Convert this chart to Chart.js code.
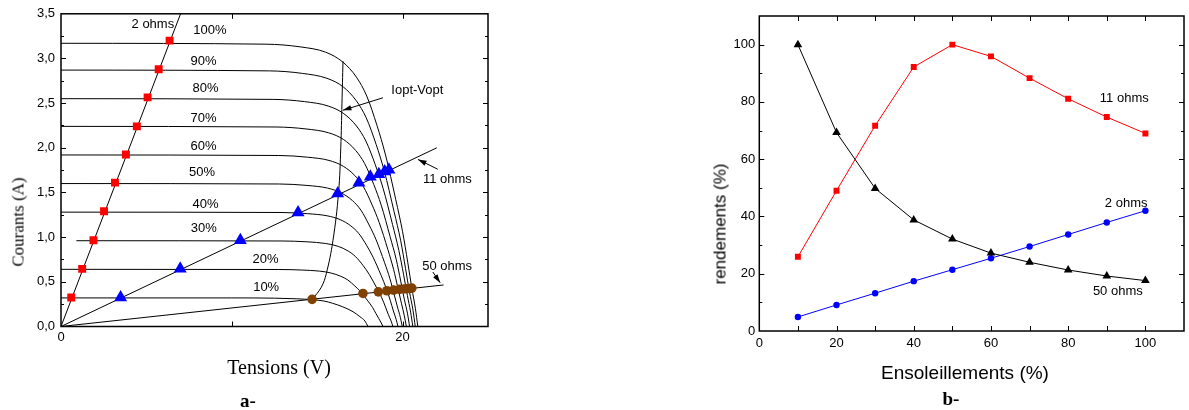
<!DOCTYPE html>
<html>
<head>
<meta charset="utf-8">
<script src="https://cdn.jsdelivr.net/npm/chart.js@4.4.1/dist/chart.umd.min.js"></script>
<style>
    html, body { margin: 0; padding: 0; background: #fff; }
    body { width: 1189px; height: 410px; position: relative; overflow: hidden; }
    .box { position: absolute; top: 0; height: 410px; }
    #left { left: 0; width: 500px; }
    #right { left: 700px; width: 489px; }
    .lbl { position: absolute; white-space: nowrap; line-height: 1; color: #000; transform: translate(-50%, -50%); }
    .rot { transform: translate(-50%, -50%) rotate(-90deg); }
    .serif { font-family: "Liberation Serif", "Times New Roman", serif; }
    .sans { font-family: "Liberation Sans", Arial, sans-serif; }
</style>
</head>
<body>
<div class="box" id="left"><canvas id="ivChart"></canvas></div>
<div class="box" id="right"><canvas id="effChart"></canvas></div>

<div class="lbl rot serif" style="left:18px; top:222px; font-size:17px;">Courants (A)</div>
<div class="lbl serif" style="left:279px; top:367px; font-size:20px;">Tensions (V)</div>
<div class="lbl serif" style="left:248px; top:400px; font-size:19px; font-weight:bold;">a-</div>

<div class="lbl rot sans" style="left:720px; top:224px; font-size:17px;">rendements (%)</div>
<div class="lbl sans" style="left:965px; top:372px; font-size:19px;">Ensoleillements (%)</div>
<div class="lbl serif" style="left:951px; top:398px; font-size:19px; font-weight:bold;">b-</div>

<script>
// ---- (a) I-V curves, one pair of arrays per irradiance level ----
const v10 = [0, 10, 12.5, 13.8, 14.7, 15.4, 15.9, 16.5, 17.1, 17.5, 17.8, 17.97];
const i10 = [0.32, 0.32, 0.317, 0.31, 0.30, 0.285, 0.26, 0.22, 0.165, 0.11, 0.06, 0];
const v20 = [0, 12.72, 14.10, 15.13, 15.82, 16.37, 16.79, 17.20, 17.55, 17.96, 18.24, 18.44, 18.61, 18.75, 18.85];
const i20 = [0.64, 0.638, 0.632, 0.620, 0.598, 0.563, 0.521, 0.454, 0.388, 0.287, 0.214, 0.145, 0.087, 0.040, 0];
const v30 = [0.9, 12.94, 14.40, 15.50, 16.23, 16.81, 17.25, 17.69, 18.05, 18.49, 18.78, 19.00, 19.17, 19.33, 19.43];
const i30 = [0.96, 0.957, 0.948, 0.929, 0.897, 0.845, 0.781, 0.682, 0.582, 0.430, 0.321, 0.218, 0.131, 0.060, 0];
const v40 = [0, 12.88, 14.42, 15.58, 16.35, 16.97, 17.43, 17.89, 18.27, 18.74, 19.04, 19.28, 19.46, 19.62, 19.73];
const i40 = [1.28, 1.276, 1.263, 1.239, 1.196, 1.126, 1.042, 0.909, 0.776, 0.573, 0.428, 0.291, 0.174, 0.081, 0];
const v50 = [0, 12.78, 14.40, 15.61, 16.42, 17.07, 17.56, 18.04, 18.45, 18.94, 19.26, 19.50, 19.70, 19.87, 19.98];
const i50 = [1.60, 1.595, 1.579, 1.549, 1.494, 1.408, 1.302, 1.136, 0.970, 0.717, 0.534, 0.363, 0.218, 0.101, 0];
const v60 = [0, 12.75, 14.43, 15.69, 16.53, 17.20, 17.71, 18.21, 18.63, 19.14, 19.47, 19.72, 19.93, 20.10, 20.22];
const i60 = [1.92, 1.914, 1.895, 1.859, 1.793, 1.690, 1.563, 1.363, 1.164, 0.860, 0.641, 0.436, 0.261, 0.121, 0];
const v70 = [0, 12.59, 14.35, 15.67, 16.55, 17.25, 17.78, 18.31, 18.75, 19.27, 19.63, 19.89, 20.10, 20.29, 20.41];
const i70 = [2.24, 2.233, 2.211, 2.168, 2.092, 1.971, 1.823, 1.590, 1.357, 1.004, 0.748, 0.508, 0.305, 0.141, 0];
const v80 = [0, 12.42, 14.26, 15.64, 16.56, 17.30, 17.85, 18.40, 18.86, 19.41, 19.78, 20.06, 20.28, 20.47, 20.60];
const i80 = [2.55, 2.542, 2.517, 2.468, 2.382, 2.244, 2.076, 1.811, 1.545, 1.142, 0.852, 0.579, 0.347, 0.161, 0];
const v90 = [0, 12.21, 14.13, 15.57, 16.53, 17.29, 17.87, 18.45, 18.93, 19.50, 19.89, 20.17, 20.40, 20.61, 20.74];
const i90 = [2.87, 2.861, 2.833, 2.778, 2.681, 2.526, 2.336, 2.038, 1.739, 1.286, 0.959, 0.651, 0.390, 0.181, 0];
const v100 = [0, 12.0, 14.0, 15.5, 16.5, 17.3, 17.9, 18.5, 19.0, 19.6, 20.0, 20.3, 20.54, 20.75, 20.89];
const i100 = [3.17, 3.16, 3.13, 3.07, 2.96, 2.79, 2.58, 2.25, 1.92, 1.42, 1.06, 0.72, 0.43, 0.20, 0];

// load lines and operating points
const load2V = [0, 7.0], load2I = [0, 3.5];
const load11V = [0, 22.0], load11I = [0, 2.0];
const load50V = [0, 22.4], load50I = [0, 0.465];
const pts2V = [0.6, 1.24, 1.9, 2.52, 3.16, 3.8, 4.44, 5.07, 5.72, 6.36];
const pts2I = [0.325, 0.645, 0.965, 1.29, 1.61, 1.925, 2.24, 2.565, 2.88, 3.2];
const pts11V = [3.49, 6.98, 10.5, 13.88, 16.2, 17.44, 18.11, 18.61, 18.95, 19.2];
const pts11I = [0.325, 0.645, 0.965, 1.275, 1.49, 1.61, 1.675, 1.705, 1.735, 1.755];
const pts50V = [14.7, 17.68, 18.58, 19.08, 19.47, 19.82, 20.08, 20.25, 20.41, 20.54];
const pts50I = [0.304, 0.37, 0.388, 0.40, 0.407, 0.415, 0.42, 0.423, 0.425, 0.43];
const ioptV = [14.7, 15.24, 15.53, 15.92, 16.25, 16.38, 16.45, 16.51];
const ioptI = [0.30, 0.44, 0.59, 0.96, 1.5, 2.0, 2.5, 2.97];

const ivYTicks = [0, 0.5, 1, 1.5, 2, 2.5, 3, 3.5];
const ivXTicks = [0, 20];

// ---- (b) efficiency vs irradiance ----
const sunlight = [10, 20, 30, 40, 50, 60, 70, 80, 90, 100];
const eff2 = [4.9, 9.1, 13.2, 17.4, 21.4, 25.4, 29.5, 33.7, 37.9, 42.0];
const eff11 = [25.9, 49.0, 71.7, 92.2, 100, 95.9, 88.3, 81.1, 74.7, 69.0];
const eff50 = [100, 69.3, 49.8, 38.8, 32.1, 27.2, 24.0, 21.3, 19.2, 17.6];
const effTicks = [0, 20, 40, 60, 80, 100];

const pairs = (xs, ys) => xs.map((x, k) => ({ x: x, y: ys[k] }));
const sansFont = '"Liberation Sans", Arial, sans-serif';

// frame, inward ticks, text notes and arrows
const decor = {
    id: 'decor',
    afterDatasetsDraw(chart, args, opts) {
        const { ctx, chartArea: a, scales: { x, y } } = chart;
        ctx.save();
        ctx.strokeStyle = '#000';
        ctx.lineWidth = opts.frameWidth;
        ctx.strokeRect(a.left, a.top, a.right - a.left, a.bottom - a.top);
        ctx.lineWidth = 1;
        ctx.beginPath();
        const xMarks = (vals, len) => vals.forEach(v => {
            const px = Math.round(x.getPixelForValue(v)) + 0.5;
            ctx.moveTo(px, a.bottom); ctx.lineTo(px, a.bottom - len);
            ctx.moveTo(px, a.top); ctx.lineTo(px, a.top + len);
        });
        const yMarks = (vals, len) => vals.forEach(v => {
            const py = Math.round(y.getPixelForValue(v)) + 0.5;
            ctx.moveTo(a.left, py); ctx.lineTo(a.left + len, py);
            ctx.moveTo(a.right, py); ctx.lineTo(a.right - len, py);
        });
        xMarks(opts.xMajor, opts.majorLen);
        xMarks(opts.xMinor, opts.minorLen);
        yMarks(opts.yMajor, opts.majorLen);
        yMarks(opts.yMinor, opts.minorLen);
        ctx.stroke();

        // arrows
        (opts.arrows || []).forEach(ar => {
            const x0 = x.getPixelForValue(ar.from[0]), y0 = y.getPixelForValue(ar.from[1]);
            const x1 = x.getPixelForValue(ar.to[0]), y1 = y.getPixelForValue(ar.to[1]);
            const ang = Math.atan2(y1 - y0, x1 - x0);
            ctx.beginPath();
            ctx.moveTo(x0, y0); ctx.lineTo(x1, y1);
            ctx.stroke();
            ctx.beginPath();
            ctx.moveTo(x1, y1);
            ctx.lineTo(x1 - 9 * Math.cos(ang - 0.3), y1 - 9 * Math.sin(ang - 0.3));
            ctx.lineTo(x1 - 9 * Math.cos(ang + 0.3), y1 - 9 * Math.sin(ang + 0.3));
            ctx.closePath();
            ctx.fillStyle = '#000';
            ctx.fill();
        });

        // text notes
        ctx.fillStyle = '#000';
        ctx.font = opts.font;
        ctx.textAlign = 'left';
        ctx.textBaseline = 'middle';
        (opts.notes || []).forEach(n => {
            ctx.fillText(n.text, x.getPixelForValue(n.x), y.getPixelForValue(n.y));
        });
        ctx.restore();
    }
};

const curveLine = (xs, ys) => ({
    data: pairs(xs, ys),
    showLine: true,
    borderColor: '#000',
    borderWidth: 1,
    pointRadius: 0,
    cubicInterpolationMode: 'monotone',
    order: 2
});
const straight = (xs, ys, tension) => ({
    data: pairs(xs, ys),
    showLine: true,
    borderColor: '#000',
    borderWidth: 1,
    pointRadius: 0,
    tension: tension || 0,
    order: 2
});
const markers = (xs, ys, style, color, r) => ({
    data: pairs(xs, ys),
    showLine: false,
    pointStyle: style,
    pointRadius: r,
    pointBackgroundColor: color,
    pointBorderWidth: 0,
    order: 0
});

new Chart(document.getElementById('ivChart'), {
    type: 'scatter',
    data: {
        datasets: [
            markers(pts2V, pts2I, 'rect', '#ff0000', 5.6),
            markers(pts11V, pts11I, 'triangle', '#0000ff', 7.5),
            markers(pts50V, pts50I, 'circle', '#804000', 4.8),
            curveLine(v10, i10), curveLine(v20, i20), curveLine(v30, i30), curveLine(v40, i40),
            curveLine(v50, i50), curveLine(v60, i60), curveLine(v70, i70), curveLine(v80, i80),
            curveLine(v90, i90), curveLine(v100, i100),
            straight(load2V, load2I), straight(load11V, load11I), straight(load50V, load50I),
            straight(ioptV, ioptI, 0.4)
        ]
    },
    options: {
        responsive: true,
        maintainAspectRatio: false,
        animation: false,
        layout: { padding: { left: 0, top: 13, right: 12, bottom: 0 } },
        plugins: {
            legend: { display: false },
            tooltip: { enabled: false },
            decor: {
                frameWidth: 1.5,
                majorLen: 5, minorLen: 3,
                xMajor: [10, 20], xMinor: [],
                yMajor: [0.5, 1, 1.5, 2, 2.5, 3],
                yMinor: [0.25, 0.75, 1.25, 1.75, 2.25, 2.75, 3.25],
                font: '13px ' + sansFont,
                notes: [
                    { text: '100%', x: 7.74, y: 3.31 },
                    { text: '90%', x: 7.58, y: 2.97 },
                    { text: '80%', x: 7.70, y: 2.66 },
                    { text: '70%', x: 7.58, y: 2.33 },
                    { text: '60%', x: 7.58, y: 2.02 },
                    { text: '50%', x: 7.50, y: 1.73 },
                    { text: '40%', x: 7.70, y: 1.37 },
                    { text: '30%', x: 7.60, y: 1.10 },
                    { text: '20%', x: 11.21, y: 0.75 },
                    { text: '10%', x: 11.25, y: 0.44 },
                    { text: '2 ohms', x: 4.13, y: 3.38 },
                    { text: 'Iopt-Vopt', x: 19.34, y: 2.64 },
                    { text: '11 ohms', x: 21.19, y: 1.65 },
                    { text: '50 ohms', x: 21.15, y: 0.675 }
                ],
                arrows: [
                    { from: [18.85, 2.56], to: [16.5, 2.42] },
                    { from: [22.06, 1.76], to: [20.9, 1.87] },
                    { from: [21.77, 0.61], to: [22.2, 0.49] }
                ]
            }
        },
        scales: {
            x: {
                type: 'linear', min: 0, max: 25,
                grid: { display: false, drawTicks: false },
                border: { display: false },
                afterBuildTicks: s => { s.ticks = ivXTicks.map(v => ({ value: v })); },
                afterFit: s => { s.height = 83.5; },
                ticks: { color: '#000', padding: 3, maxRotation: 0, font: { family: sansFont, size: 13 } }
            },
            y: {
                type: 'linear', min: 0, max: 3.5,
                grid: { display: false, drawTicks: false },
                border: { display: false },
                afterBuildTicks: s => { s.ticks = ivYTicks.map(v => ({ value: v })); },
                afterFit: s => { s.width = 61; },
                ticks: {
                    color: '#000', padding: 6, font: { family: sansFont, size: 13 },
                    callback: v => v.toFixed(1).replace('.', ',')
                }
            }
        }
    },
    plugins: [decor]
});

const effLine = (ys, color, style, r) => ({
    data: pairs(sunlight, ys),
    showLine: true,
    borderColor: color,
    borderWidth: 1,
    pointStyle: style,
    pointRadius: r,
    pointBackgroundColor: color,
    pointBorderWidth: 0
});

new Chart(document.getElementById('effChart'), {
    type: 'scatter',
    data: {
        datasets: [
            effLine(eff50, '#000000', 'triangle', 5),
            effLine(eff11, '#ff0000', 'rect', 4.2),
            effLine(eff2, '#0000ff', 'circle', 3.2)
        ]
    },
    options: {
        responsive: true,
        maintainAspectRatio: false,
        animation: false,
        layout: { padding: { left: 0, top: 16, right: 1.3, bottom: 0 } },
        plugins: {
            legend: { display: false },
            tooltip: { enabled: false },
            decor: {
                frameWidth: 1.5,
                majorLen: 5, minorLen: 3,
                xMajor: [10, 20, 30, 40, 50, 60, 70, 80, 90, 100], xMinor: [],
                yMajor: [20, 40, 60, 80, 100],
                yMinor: [10, 30, 50, 70, 90],
                font: '13px ' + sansFont,
                notes: [
                    { text: '11 ohms', x: 88.2, y: 81.1 },
                    { text: '2 ohms', x: 89.5, y: 44.65 },
                    { text: '50 ohms', x: 86.4, y: 13.7 }
                ],
                arrows: []
            }
        },
        scales: {
            x: {
                type: 'linear', min: 0, max: 110,
                grid: { display: false, drawTicks: false },
                border: { display: false },
                afterBuildTicks: s => { s.ticks = effTicks.map(v => ({ value: v })); },
                afterFit: s => { s.height = 79; },
                ticks: { color: '#000', padding: 4.5, maxRotation: 0, font: { family: sansFont, size: 13 } }
            },
            y: {
                type: 'linear', min: 0, max: 110,
                grid: { display: false, drawTicks: false },
                border: { display: false },
                afterBuildTicks: s => { s.ticks = effTicks.map(v => ({ value: v })); },
                afterFit: s => { s.width = 59.3; },
                ticks: { color: '#000', padding: 4, font: { family: sansFont, size: 13 } }
            }
        }
    },
    plugins: [decor]
});
</script>
</body>
</html>
